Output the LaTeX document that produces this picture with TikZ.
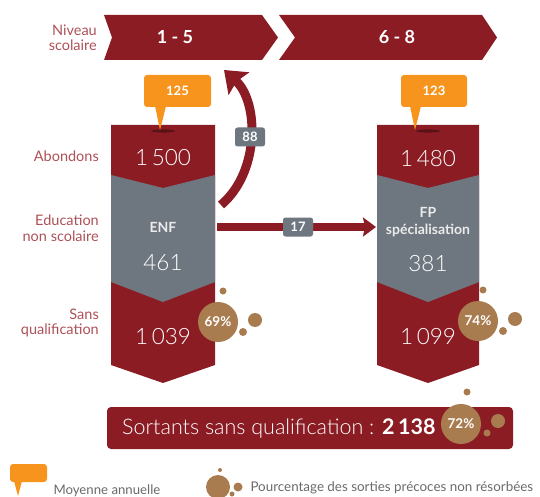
\documentclass[tikz,border=0pt]{standalone}
\usepackage{fontspec}
\setmainfont{Lato}
\newfontfamily\thinfont{Lato Light}
\usetikzlibrary{arrows.meta}
\definecolor{dred}{HTML}{8B1C24}
\definecolor{bgray}{HTML}{6E777F}
\definecolor{orng}{HTML}{F7941D}
\definecolor{brwn}{HTML}{A97C50}
\definecolor{lblred}{HTML}{AD5058}
\definecolor{lgtxt}{HTML}{6A6A6A}
\begin{document}
\begin{tikzpicture}[x=1pt,y=-1pt,
  lbl/.style={text=lblred,font=\fontsize{14.5}{15.5}\selectfont,align=right,anchor=east,inner sep=0pt},
  bignum/.style={text=white,font=\thinfont\fontsize{22.5}{24}\selectfont},
  boldw/.style={text=white!92!black,font=\bfseries\fontsize{14}{17}\selectfont,align=center},
  tag/.style={fill=bgray,rounded corners=2.5pt,text=white,font=\bfseries\fontsize{13}{14}\selectfont,minimum width=30pt,minimum height=19pt,inner sep=0pt},
  callout/.style={fill=orng,rounded corners=3pt},
  bub/.style={fill=brwn},
  pct/.style={text=white,font=\bfseries\fontsize{13.5}{14}\selectfont},
  flow/.style={draw=dred,line width=9pt}
]
\useasboundingbox (0,0) rectangle (540,497);
% banners
\fill[dred] (104,15) -- (262,15) -- (278,37.5) -- (262,60) -- (104,60) -- (112,37.5) -- cycle;
\fill[dred] (279,15) -- (482,15) -- (497,37.5) -- (482,60) -- (279,60) -- (295,37.5) -- cycle;
\node[text=white,font=\bfseries\fontsize{18}{20}\selectfont] (b1) at (175,37) {1 - 5};
\node[text=white,font=\bfseries\fontsize{18}{20}\selectfont] (b2) at (397,37) {6 - 8};
\node[lbl] (niv) at (97,38) {Niveau\\scolaire};
% row labels
\node[lbl] (labA) at (99,156) {Abondons};
\node[lbl] (labE) at (99,228) {Education\\non scolaire};
\node[lbl] (labS) at (99,323) {Sans\\qualification};
% columns
\foreach \xl/\xr/\xc in {111/215/163, 377/479/428}{
  \fill[dred] (\xl,125) -- (\xr,125) -- (\xr,365) -- (\xc,383) -- (\xl,365) -- cycle;
  \fill[bgray] (\xl,175) -- (\xc,188) -- (\xr,175) -- (\xr,282) -- (\xc,302) -- (\xl,282) -- cycle;
  \fill[black,opacity=0.35] (\xc,131) ellipse (12pt and 1.6pt);
}
% callouts
\fill[callout] (144,75) rectangle (211,107);
\fill[orng] (155,106) -- (166,106) -- (160,130) -- cycle;
\node[text=white,font=\bfseries\fontsize{13}{14}\selectfont] (c1) at (177.5,91) {125};
\fill[callout] (401,75) rectangle (467,107);
\fill[orng] (410,106) -- (421,106) -- (415,130) -- cycle;
\node[text=white,font=\bfseries\fontsize{13}{14}\selectfont] (c2) at (434,91) {123};
% column texts
\node[bignum] (n1) at (163,158) {1\,500};
\node[boldw] (enf) at (163,227) {ENF};
\node[bignum] (n2) at (163,263) {461};
\node[bignum] (n3) at (163,337) {1\,039};
\node[bignum] (m1) at (428,159) {1\,480};
\node[boldw] (fp) at (428,222) {FP\\spécialisation};
\node[bignum] (m2) at (428,264) {381};
\node[bignum] (m3) at (428,337) {1\,099};
% connectors
\coordinate (enfR) at (217,227);
\coordinate (fpL) at (376,227);
\coordinate (enfTop) at (221,205);
\coordinate (lvl) at (224,70);
\draw[flow,line width=8.5pt,-{Stealth[width=19pt,length=13pt,inset=2pt]}] (enfR) -- (fpL);
\draw[flow,-{Stealth[width=30pt,length=20pt,inset=3pt]}] (enfTop) .. controls (260,172) and (259,102) .. (lvl);
\node[tag] (t88) at (250,137) {88};
\node[tag] (t17) at (298,227) {17};
% bubbles
\foreach \cx/\cy/\p/\nm in {218/322/69/pA, 478/321/74/pB}{
  \fill[bub] (\cx,\cy) circle (20pt);
  \fill[bub] (\cx+5,\cy-31) circle (3.5pt);
  \fill[bub] (\cx+37,\cy-2) circle (7pt);
  \fill[bub] (\cx+25,\cy+10) circle (4pt);
  \node[pct] (\nm) at (\cx,\cy) {\p\%};
}
% bottom bar
\fill[dred,rounded corners=4pt] (107,407) rectangle (513,449);
\node[anchor=west,text=white,inner sep=0pt] (sort) at (122,429) {\thinfont\fontsize{21.5}{24}\selectfont Sortants sans qualification : \bfseries\fontspec{Lato}2\,138};
\fill[bub] (461,424) circle (20pt);
\fill[bub] (467,392) circle (3.5pt);
\fill[bub] (498,421) circle (7pt);
\fill[bub] (487,433) circle (3.5pt);
\node[pct] (pC) at (461,424) {72\%};
% legend
\fill[callout] (10,464) rectangle (47,482);
\fill[orng] (14,481) -- (22,481) -- (18,496) -- cycle;
\node[anchor=west,text=lgtxt,font=\fontsize{13.2}{14}\selectfont] (leg1) at (50,491) {Moyenne annuelle};
\fill[bub] (218,487) circle (12pt);
\fill[bub] (220,470) circle (2pt);
\fill[bub] (238,487) circle (4.5pt);
\fill[bub] (232,494) circle (2.5pt);
\node[anchor=west,text=lgtxt,font=\fontsize{13.4}{14}\selectfont] (leg2) at (247,488) {Pourcentage des sorties précoces non résorbées};
\end{tikzpicture}
\end{document}
